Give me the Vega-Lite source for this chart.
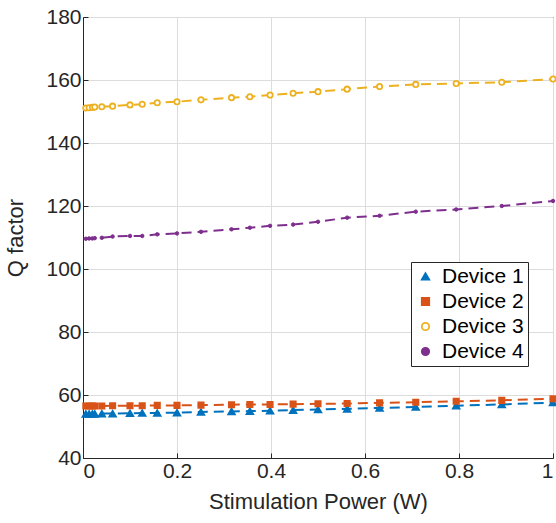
{
  "$schema": "https://vega.github.io/schema/vega-lite/v6.json",
  "width": 470,
  "height": 441,
  "autosize": {"type": "none"},
  "padding": {"left": 83, "top": 17, "right": 3, "bottom": 65},
  "config": {
    "font": "Liberation Sans",
    "view": {"stroke": "#262626", "strokeWidth": 1},
    "axis": {
      "labelFont": "Liberation Sans",
      "titleFont": "Liberation Sans",
      "labelFontSize": 21,
      "titleFontSize": 22,
      "titleFontWeight": "normal",
      "labelColor": "#262626",
      "titleColor": "#262626",
      "gridColor": "#dcdcdc",
      "gridWidth": 1,
      "domainColor": "#262626",
      "tickColor": "#262626",
      "tickSize": -5,
      "labelPadding": 7
    },
    "legend": {
      "labelFont": "Liberation Sans",
      "labelFontSize": 21,
      "labelColor": "#000000",
      "strokeColor": "#262626",
      "fillColor": "#ffffff",
      "padding": 4,
      "rowPadding": 3,
      "symbolSize": 55,
      "symbolStrokeWidth": 1.8,
      "labelOffset": 6
    }
  },
  "data": {
    "values": [
      {"device": "Device 1", "x": 0.006, "q": 54.0},
      {"device": "Device 1", "x": 0.013, "q": 54.0},
      {"device": "Device 1", "x": 0.02, "q": 54.0},
      {"device": "Device 1", "x": 0.025, "q": 54.0},
      {"device": "Device 1", "x": 0.04, "q": 54.1},
      {"device": "Device 1", "x": 0.063, "q": 54.1},
      {"device": "Device 1", "x": 0.1, "q": 54.2},
      {"device": "Device 1", "x": 0.126, "q": 54.3},
      {"device": "Device 1", "x": 0.158, "q": 54.3},
      {"device": "Device 1", "x": 0.2, "q": 54.4},
      {"device": "Device 1", "x": 0.251, "q": 54.6},
      {"device": "Device 1", "x": 0.316, "q": 54.8},
      {"device": "Device 1", "x": 0.355, "q": 54.9},
      {"device": "Device 1", "x": 0.398, "q": 55.0},
      {"device": "Device 1", "x": 0.447, "q": 55.2},
      {"device": "Device 1", "x": 0.5, "q": 55.4},
      {"device": "Device 1", "x": 0.562, "q": 55.6},
      {"device": "Device 1", "x": 0.631, "q": 55.9},
      {"device": "Device 1", "x": 0.708, "q": 56.2},
      {"device": "Device 1", "x": 0.794, "q": 56.6},
      {"device": "Device 1", "x": 0.891, "q": 57.0},
      {"device": "Device 1", "x": 1.0, "q": 57.6},
      {"device": "Device 2", "x": 0.006, "q": 56.5},
      {"device": "Device 2", "x": 0.013, "q": 56.5},
      {"device": "Device 2", "x": 0.02, "q": 56.5},
      {"device": "Device 2", "x": 0.025, "q": 56.5},
      {"device": "Device 2", "x": 0.04, "q": 56.5},
      {"device": "Device 2", "x": 0.063, "q": 56.6},
      {"device": "Device 2", "x": 0.1, "q": 56.6},
      {"device": "Device 2", "x": 0.126, "q": 56.6},
      {"device": "Device 2", "x": 0.158, "q": 56.7},
      {"device": "Device 2", "x": 0.2, "q": 56.7},
      {"device": "Device 2", "x": 0.251, "q": 56.8},
      {"device": "Device 2", "x": 0.316, "q": 56.9},
      {"device": "Device 2", "x": 0.355, "q": 57.0},
      {"device": "Device 2", "x": 0.398, "q": 57.0},
      {"device": "Device 2", "x": 0.447, "q": 57.1},
      {"device": "Device 2", "x": 0.5, "q": 57.2},
      {"device": "Device 2", "x": 0.562, "q": 57.3},
      {"device": "Device 2", "x": 0.631, "q": 57.5},
      {"device": "Device 2", "x": 0.708, "q": 57.7},
      {"device": "Device 2", "x": 0.794, "q": 58.0},
      {"device": "Device 2", "x": 0.891, "q": 58.3},
      {"device": "Device 2", "x": 1.0, "q": 58.8},
      {"device": "Device 3", "x": 0.006, "q": 151.1},
      {"device": "Device 3", "x": 0.013, "q": 151.2},
      {"device": "Device 3", "x": 0.02, "q": 151.3},
      {"device": "Device 3", "x": 0.025, "q": 151.4},
      {"device": "Device 3", "x": 0.04, "q": 151.5},
      {"device": "Device 3", "x": 0.063, "q": 151.7},
      {"device": "Device 3", "x": 0.1, "q": 152.1},
      {"device": "Device 3", "x": 0.126, "q": 152.3},
      {"device": "Device 3", "x": 0.158, "q": 152.8},
      {"device": "Device 3", "x": 0.2, "q": 153.1},
      {"device": "Device 3", "x": 0.251, "q": 153.7},
      {"device": "Device 3", "x": 0.316, "q": 154.4},
      {"device": "Device 3", "x": 0.355, "q": 154.7},
      {"device": "Device 3", "x": 0.398, "q": 155.2},
      {"device": "Device 3", "x": 0.447, "q": 155.8},
      {"device": "Device 3", "x": 0.5, "q": 156.3},
      {"device": "Device 3", "x": 0.562, "q": 157.1},
      {"device": "Device 3", "x": 0.631, "q": 157.9},
      {"device": "Device 3", "x": 0.708, "q": 158.6},
      {"device": "Device 3", "x": 0.794, "q": 158.9},
      {"device": "Device 3", "x": 0.891, "q": 159.3},
      {"device": "Device 3", "x": 1.0, "q": 160.3},
      {"device": "Device 4", "x": 0.006, "q": 109.6},
      {"device": "Device 4", "x": 0.013, "q": 109.7},
      {"device": "Device 4", "x": 0.02, "q": 109.7},
      {"device": "Device 4", "x": 0.025, "q": 109.8},
      {"device": "Device 4", "x": 0.04, "q": 109.9},
      {"device": "Device 4", "x": 0.063, "q": 110.3},
      {"device": "Device 4", "x": 0.1, "q": 110.5},
      {"device": "Device 4", "x": 0.126, "q": 110.5},
      {"device": "Device 4", "x": 0.158, "q": 111.0},
      {"device": "Device 4", "x": 0.2, "q": 111.3},
      {"device": "Device 4", "x": 0.251, "q": 111.8},
      {"device": "Device 4", "x": 0.316, "q": 112.6},
      {"device": "Device 4", "x": 0.355, "q": 113.1},
      {"device": "Device 4", "x": 0.398, "q": 113.7},
      {"device": "Device 4", "x": 0.447, "q": 114.1},
      {"device": "Device 4", "x": 0.5, "q": 115.0},
      {"device": "Device 4", "x": 0.562, "q": 116.3},
      {"device": "Device 4", "x": 0.631, "q": 116.9},
      {"device": "Device 4", "x": 0.708, "q": 118.2},
      {"device": "Device 4", "x": 0.794, "q": 118.9},
      {"device": "Device 4", "x": 0.891, "q": 120.0},
      {"device": "Device 4", "x": 1.0, "q": 121.6}
    ]
  },
  "encoding": {
    "x": {
      "field": "x",
      "type": "quantitative",
      "scale": {"domain": [0, 1], "nice": false, "zero": false},
      "axis": {"title": "Stimulation Power (W)", "values": [0, 0.2, 0.4, 0.6, 0.8, 1], "format": "~g", "titlePadding": 10}
    },
    "y": {
      "field": "q",
      "type": "quantitative",
      "scale": {"domain": [40, 180], "nice": false, "zero": false},
      "axis": {"title": "Q factor", "values": [40, 60, 80, 100, 120, 140, 160, 180], "titlePadding": 18}
    },
    "stroke": {
      "field": "device",
      "type": "nominal",
      "title": null,
      "scale": {"domain": ["Device 1", "Device 2", "Device 3", "Device 4"], "range": ["#0072BD", "#D95319", "#EDB120", "#7E2F8E"]},
      "legend": {"orient": "none", "legendX": 328, "legendY": 245, "title": null}
    }
  },
  "layer": [
    {
      "mark": {"type": "line", "strokeDash": [10, 6], "strokeWidth": 2}
    },
    {
      "transform": [{"filter": "datum.device == 'Device 1'"}],
      "mark": {"type": "point", "strokeWidth": 1.5, "opacity": 1, "size": 50},
      "encoding": {
        "fill": {
          "field": "device",
          "type": "nominal",
          "title": null,
          "scale": {"domain": ["Device 1", "Device 2", "Device 3", "Device 4"], "range": ["#0072BD", "#D95319", "#ffffff", "#7E2F8E"]},
          "legend": {"orient": "none", "legendX": 328, "legendY": 245, "title": null}
        },
        "shape": {
          "field": "device",
          "type": "nominal",
          "title": null,
          "scale": {"domain": ["Device 1", "Device 2", "Device 3", "Device 4"], "range": ["triangle-up", "square", "circle", "circle"]},
          "legend": {"orient": "none", "legendX": 328, "legendY": 245, "title": null}
        }
      }
    },
    {
      "transform": [{"filter": "datum.device == 'Device 2' || datum.device == 'Device 3'"}],
      "mark": {"type": "point", "strokeWidth": 1.8, "opacity": 1, "size": 28},
      "encoding": {
        "fill": {
          "field": "device",
          "type": "nominal",
          "title": null,
          "scale": {"domain": ["Device 1", "Device 2", "Device 3", "Device 4"], "range": ["#0072BD", "#D95319", "#ffffff", "#7E2F8E"]},
          "legend": {"orient": "none", "legendX": 328, "legendY": 245, "title": null}
        },
        "shape": {
          "field": "device",
          "type": "nominal",
          "title": null,
          "scale": {"domain": ["Device 1", "Device 2", "Device 3", "Device 4"], "range": ["triangle-up", "square", "circle", "circle"]},
          "legend": {"orient": "none", "legendX": 328, "legendY": 245, "title": null}
        }
      }
    },
    {
      "transform": [{"filter": "datum.device == 'Device 4'"}],
      "mark": {"type": "point", "strokeWidth": 1, "opacity": 1, "size": 12},
      "encoding": {
        "fill": {
          "field": "device",
          "type": "nominal",
          "title": null,
          "scale": {"domain": ["Device 1", "Device 2", "Device 3", "Device 4"], "range": ["#0072BD", "#D95319", "#ffffff", "#7E2F8E"]},
          "legend": {"orient": "none", "legendX": 328, "legendY": 245, "title": null}
        },
        "shape": {
          "field": "device",
          "type": "nominal",
          "title": null,
          "scale": {"domain": ["Device 1", "Device 2", "Device 3", "Device 4"], "range": ["triangle-up", "square", "circle", "circle"]},
          "legend": {"orient": "none", "legendX": 328, "legendY": 245, "title": null}
        }
      }
    }
  ]
}
